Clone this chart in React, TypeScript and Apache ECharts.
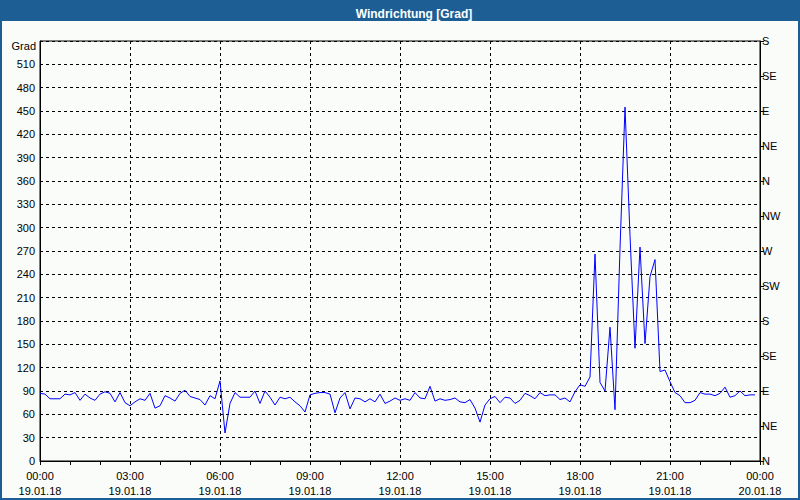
import React, { useEffect, useRef } from 'react';
import * as echarts from 'echarts';

// minutes since 19.01.18 00:00, one reading every 10 minutes
const sampleMinutes = [
  0, 10, 20, 30, 40, 50, 60, 70, 80, 90, 100, 110, 120, 130, 140, 150, 160, 170, 180, 190,
  200, 210, 220, 230, 240, 250, 260, 270, 280, 290, 300, 310, 320, 330, 340, 350, 360, 370, 380, 390,
  400, 410, 420, 430, 440, 450, 460, 470, 480, 490, 500, 510, 520, 530, 540, 550, 560, 570, 580, 590,
  600, 610, 620, 630, 640, 650, 660, 670, 680, 690, 700, 710, 720, 730, 740, 750, 760, 770, 780, 790,
  800, 810, 820, 830, 840, 850, 860, 870, 880, 890, 900, 910, 920, 930, 940, 950, 960, 970, 980, 990,
  1000, 1010, 1020, 1030, 1040, 1050, 1060, 1070, 1080, 1090, 1100, 1110, 1120, 1130, 1140, 1150, 1160, 1170, 1180, 1190,
  1200, 1210, 1220, 1230, 1240, 1250, 1260, 1270, 1280, 1290, 1300, 1310, 1320, 1330, 1340, 1350, 1360, 1370, 1380, 1390,
  1400, 1410, 1420, 1430,
];

const windDirection = [
  87, 86, 80, 80, 80, 86, 85, 88, 78, 86,
  81, 78, 86, 89, 87, 76, 88, 75, 71, 76,
  80, 78, 87, 68, 71, 84, 81, 77, 87, 91,
  83, 81, 79, 72, 84, 80, 103, 36, 74, 88,
  82, 82, 82, 90, 74, 90, 82, 72, 82, 80,
  82, 76, 71, 63, 85, 87, 88, 88, 86, 62,
  81, 88, 67, 81, 80, 76, 80, 76, 86, 74,
  77, 81, 78, 80, 78, 88, 81, 80, 96, 77,
  80, 78, 79, 81, 76, 75, 79, 68, 50, 72,
  80, 83, 75, 82, 81, 74, 78, 87, 84, 80,
  88, 84, 85, 85, 79, 81, 76, 89, 98, 96,
  108, 266, 101, 90, 172, 66, 273, 455, 290, 145,
  275, 151, 237, 259, 115, 117, 102, 88, 84, 75,
  75, 78, 88, 86, 86, 84, 87, 95, 82, 84,
  90, 84, 85, 85,
];

const xTickTimes = ['00:00', '03:00', '06:00', '09:00', '12:00', '15:00', '18:00', '21:00', '00:00'];
const xTickDates = ['19.01.18', '19.01.18', '19.01.18', '19.01.18', '19.01.18', '19.01.18', '19.01.18', '19.01.18', '20.01.18'];
const compassLabels = ['N', 'NE', 'E', 'SE', 'S', 'SW', 'W', 'NW', 'N', 'NE', 'E', 'SE', 'S'];

const TITLE = 'Windrichtung [Grad]';
const UNIT = 'Grad';

const FONT = 'Liberation Sans, Arial, sans-serif';
const FRAME = '#1d5f95';

export default function App() {
  const ref = useRef<HTMLDivElement>(null);

  useEffect(() => {
    if (!ref.current) return;
    const chart = echarts.init(ref.current, null, { renderer: 'svg' });
    const dash = [3, 3];
    chart.setOption({
      animation: false,
      backgroundColor: '#f9fcf9',
      title: {
        text: TITLE,
        left: 409,
        textAlign: 'center',
        top: 3,
        textStyle: { color: '#ffffff', fontSize: 12, fontWeight: 'bold', fontFamily: FONT },
      },
      graphic: [
        { type: 'rect', left: 0, top: 0, shape: { width: 800, height: 21 }, style: { fill: FRAME }, z: -1 },
        { type: 'rect', left: 0, top: 0, shape: { width: 2, height: 500 }, style: { fill: FRAME }, z: -1 },
        { type: 'rect', left: 798, top: 0, shape: { width: 2, height: 500 }, style: { fill: FRAME }, z: -1 },
        { type: 'rect', left: 0, top: 498, shape: { width: 800, height: 2 }, style: { fill: FRAME }, z: -1 },
        {
          type: 'text',
          right: 764,
          top: 40,
          style: { text: UNIT, fill: '#000', font: `11px ${FONT}` },
        },
      ],
      grid: {
        left: 40,
        right: 40,
        top: 41,
        bottom: 39,
        show: true,
        borderColor: '#000',
        borderWidth: 1,
        backgroundColor: 'transparent',
      },
      xAxis: {
        type: 'value',
        min: 0,
        max: 1440,
        interval: 180,
        axisLine: { show: true, lineStyle: { color: '#000', width: 1 } },
        axisTick: { show: true, length: 4, lineStyle: { color: '#000' } },
        minorTick: { show: true, splitNumber: 3, length: 4, lineStyle: { color: '#000' } },
        splitLine: { show: true, lineStyle: { color: '#000', type: dash, width: 1 } },
        axisLabel: {
          color: '#000',
          fontSize: 11,
          fontFamily: FONT,
          lineHeight: 15,
          margin: 7,
          showMinLabel: true,
          showMaxLabel: true,
          formatter: (v: number) => {
            const i = Math.round(v / 180);
            return `${xTickTimes[i]}\n${xTickDates[i]}`;
          },
        },
      },
      yAxis: [
        {
          type: 'value',
          position: 'left',
          min: 0,
          max: 540,
          interval: 30,
          axisLine: { show: true, lineStyle: { color: '#000' } },
          axisTick: { show: false },
          splitLine: { show: true, lineStyle: { color: '#000', type: dash, width: 1 } },
          axisLabel: {
            color: '#000',
            fontSize: 11,
            fontFamily: FONT,
            margin: 5,
            formatter: (v: number) => (v === 540 ? '' : String(v)),
          },
        },
        {
          type: 'value',
          position: 'right',
          min: 0,
          max: 540,
          interval: 45,
          axisLine: { show: true, lineStyle: { color: '#000' } },
          axisTick: { show: true, length: 4, lineStyle: { color: '#000' } },
          splitLine: { show: false },
          axisLabel: {
            color: '#000',
            fontSize: 11,
            fontFamily: FONT,
            margin: 2,
            formatter: (v: number) => compassLabels[Math.round(v / 45)],
          },
        },
      ],
      series: [
        {
          type: 'line',
          yAxisIndex: 0,
          data: sampleMinutes.map((t, i) => [t, windDirection[i]]),
          symbol: 'none',
          lineStyle: { color: '#0000ff', width: 1 },
          z: 5,
        },
      ],
    });
    return () => chart.dispose();
  }, []);

  return (
    <div
      ref={ref}
      style={{ position: 'absolute', left: 0, top: 0, width: 800, height: 500 }}
    />
  );
}
